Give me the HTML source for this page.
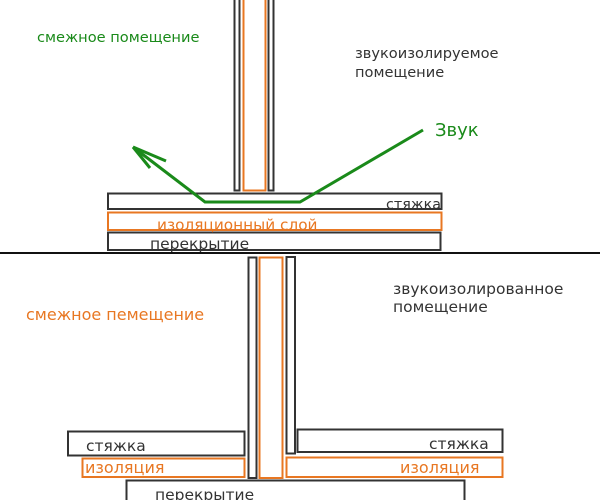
<!DOCTYPE html>
<html><head><meta charset="utf-8"><style>
html,body{margin:0;padding:0;background:#fff;}
svg{display:block;}
text{font-family:"DejaVu Sans","Liberation Sans",sans-serif;}
</style></head><body>
<svg width="600" height="500" viewBox="0 0 600 500" xmlns="http://www.w3.org/2000/svg">
<rect width="600" height="500" fill="#fff"/>
<g fill="none" stroke-width="2">
<rect x="234.5" y="-2" width="5" height="192.5" stroke="#333"/>
<rect x="243.5" y="-2" width="22" height="192.5" stroke="#e87722"/>
<rect x="268.5" y="-2" width="5" height="192.5" stroke="#333"/>
<rect x="108" y="193.5" width="333.5" height="15.5" stroke="#333"/>
<rect x="108" y="212.5" width="333.5" height="17.5" stroke="#e87722"/>
<rect x="108" y="232.5" width="332.5" height="17.5" stroke="#333"/>
<rect x="248.5" y="257.5" width="8" height="220.5" stroke="#333"/>
<rect x="259.5" y="257.5" width="23" height="220.5" stroke="#e87722"/>
<rect x="286.5" y="257" width="8.5" height="196.5" stroke="#333"/>
<rect x="68" y="431.5" width="176.5" height="24" stroke="#333"/>
<rect x="82.5" y="458.5" width="162" height="18.5" stroke="#e87722"/>
<rect x="297.5" y="429.5" width="205" height="22.5" stroke="#333"/>
<rect x="286.5" y="457.5" width="216" height="19.5" stroke="#e87722"/>
<rect x="126.5" y="480.5" width="338" height="22" stroke="#333"/>
</g>
<line x1="0" y1="253" x2="600" y2="253" stroke="#111" stroke-width="2"/>
<g fill="none" stroke="#1a8a1a" stroke-width="3">
<polyline points="423,130 300,202 205,202 133,147"/>
<line x1="133" y1="147" x2="166" y2="161"/>
<line x1="133" y1="147" x2="150" y2="168"/>
</g>
<g font-size="14.6" fill="#333">
<text x="37" y="42" fill="#1a8a1a">смежное помещение</text>
<text x="355" y="58">звукоизолируемое</text>
<text x="355" y="77">помещение</text>
<text x="435" y="136" font-size="18" fill="#1a8a1a">Звук</text>
<text x="386" y="209" font-size="14.3">стяжка</text>
<text x="157" y="230" font-size="15.3" fill="#e87722">изоляционный слой</text>
<text x="150" y="249" font-size="15.5">перекрытие</text>
<text x="393" y="294" font-size="15.5">звукоизолированное</text>
<text x="393" y="312" font-size="15.5">помещение</text>
<text x="26" y="320" font-size="16" fill="#e87722">смежное пемещение</text>
<text x="86" y="451" font-size="15.5">стяжка</text>
<text x="85" y="473" font-size="16" fill="#e87722">изоляция</text>
<text x="429" y="449" font-size="15.5">стяжка</text>
<text x="400" y="473" font-size="16" fill="#e87722">изоляция</text>
<text x="155" y="500" font-size="15.5">перекрытие</text>
</g>
</svg>
</body></html>
